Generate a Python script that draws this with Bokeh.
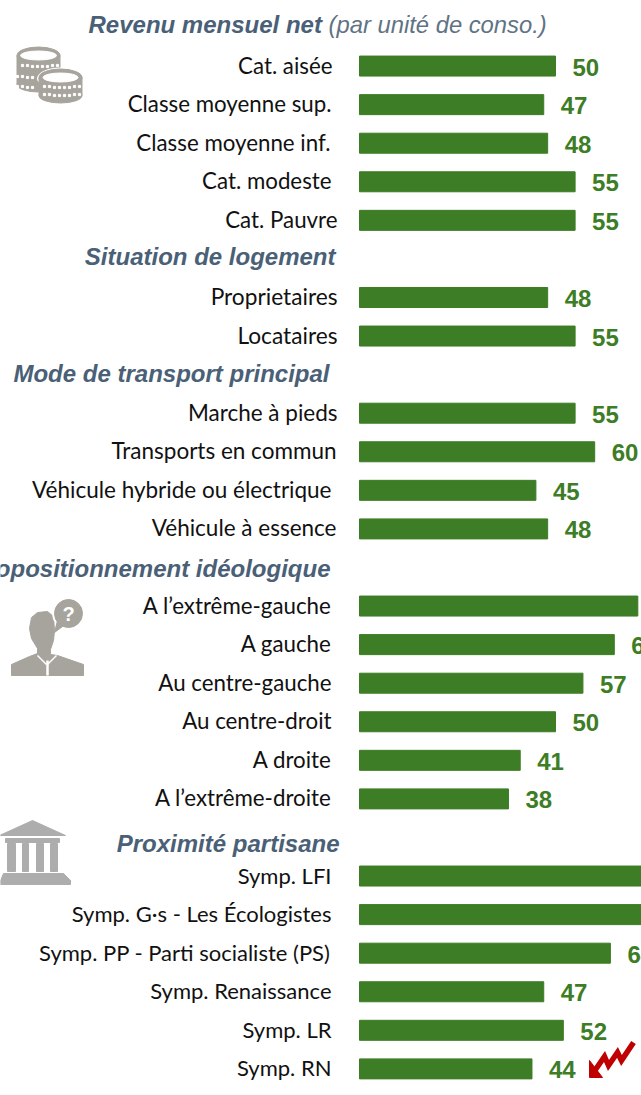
from bokeh.plotting import figure
from bokeh.models import Range1d, ColumnDataSource
from bokeh.core.properties import value
from bokeh.embed import file_html
from bokeh.resources import INLINE

# ---------- data ----------
title_bold = "Revenu mensuel net"
title_light = "(par unité de conso.)"
headings = ["Situation de logement", "Mode de transport principal",
            "Autopositionnement idéologique", "Proximité partisane"]

revenu = ["Cat. aisée", "Classe moyenne sup.", "Classe moyenne inf.", "Cat. modeste", "Cat. Pauvre"]
revenu_v = [50, 47, 48, 55, 55]
logement = ["Proprietaires", "Locataires"]
logement_v = [48, 55]
transport = ["Marche à pieds", "Transports en commun", "Véhicule hybride ou électrique", "Véhicule à essence"]
transport_v = [55, 60, 45, 48]
ideologie = ["A l’extrême-gauche", "A gauche", "Au centre-gauche", "Au centre-droit", "A droite", "A l’extrême-droite"]
ideologie_v = [71, 65, 57, 50, 41, 38]
partis = ["Symp. LFI", "Symp. G·s - Les Écologistes", "Symp. PP - Parti socialiste (PS)",
          "Symp. Renaissance", "Symp. LR", "Symp. RN"]
partis_v = [74, 73, 64, 47, 52, 44]

# ---------- layout (pixels of the page, separate from the values) ----------
W, H = 641, 1095
ROW0, ROW_H = 27.0, 38.57
PX_PER_UNIT = 3.92
BAR_X0 = 359
GREEN, SLATE, ICON = "#3d7d25", "#4a6076", "#a6a49c"
RED = "#c00000"
label_right = [332, 331, 330, 331, 337, 337, 337, 337, 336, 331, 336,
               331, 331, 331, 331, 331, 331, 331, 331, 330, 331, 331, 331]
label_sizes = (["22.3px"] * 5 + ["22.7px"] * 2 + ["22.5px"] * 4 + ["22.3px"] * 6 + ["22px"] * 6)
heading_right = [335, 329, 330, 339]
heading_dy = [-2, -1, 1, 6]

labels = revenu + logement + transport + ideologie + partis
vals = revenu_v + logement_v + transport_v + ideologie_v + partis_v
rows = ([title_bold] + revenu + [headings[0]] + logement + [headings[1]] + transport
        + [headings[2]] + ideologie + [headings[3]] + partis)


def row_y(name):
    return ROW0 + ROW_H * rows.index(name)


p = figure(width=W, height=H, output_backend="svg", toolbar_location=None,
           x_range=Range1d(-BAR_X0 / PX_PER_UNIT, (W - BAR_X0) / PX_PER_UNIT),
           y_range=Range1d(H, 0),
           min_border_left=0, min_border_right=0, min_border_top=0, min_border_bottom=0)
p.xaxis.visible = False
p.yaxis.visible = False
p.grid.visible = False
p.outline_line_color = None
p.background_fill_color = "white"
p.border_fill_color = "white"
p.extra_x_ranges["px"] = Range1d(0, W)

src = ColumnDataSource(dict(y=[row_y(l) for l in labels], name=labels, v=vals,
                            t=[str(v) for v in vals], r=label_right, fs=label_sizes))
p.hbar(y="y", left=0, right="v", height=20, source=src, color=GREEN)
p.text(x="v", y="y", text="t", source=src, x_offset=17, y_offset=1, text_align="left",
       text_baseline="middle", text_color=GREEN, text_font=value("Liberation Sans"),
       text_font_style="bold", text_font_size="24px")
p.text(x="r", y="y", text="name", source=src, x_range_name="px", y_offset=-1, text_align="right",
       text_baseline="middle", text_color="#111111", text_font=value("Lato"), text_font_size="fs")

p.text(x="r", y="y", text="h", x_range_name="px", y_offset="dy",
       source=ColumnDataSource(dict(h=headings, y=[row_y(h) for h in headings],
                                    r=heading_right, dy=heading_dy)),
       text_align="right", text_baseline="middle", text_color=SLATE,
       text_font=value("Liberation Sans"), text_font_style="bold italic", text_font_size="24px")
p.text(x=[88], y=[row_y(title_bold)], text=[title_bold], x_range_name="px", y_offset=-3,
       text_align="left", text_baseline="middle", text_color=SLATE,
       text_font=value("Liberation Sans"), text_font_style="bold italic", text_font_size="24px")
p.text(x=[328], y=[row_y(title_bold)], text=[title_light], x_range_name="px", y_offset=-3,
       text_align="left", text_baseline="middle", text_color="#5f7384",
       text_font=value("Liberation Sans"), text_font_style="italic", text_font_size="23.8px")

px = dict(x_range_name="px")

# coins icon
def coin(cx, cy, depth):
    p.rect(x=[cx], y=[cy + depth / 2], width=[43], height=[depth], color=ICON, **px)
    p.ellipse(x=[cx], y=[cy + depth], width=[43], height=[15], color=ICON, **px)
    p.ellipse(x=[cx], y=[cy], width=[43], height=[17], color=ICON, **px)

coin(38, 55, 29)
for dx in range(-16, 20, 5):
    p.rect(x=[38 + dx], y=[65 + (abs(dx) < 10) * 1], width=[2.2], height=[2.2], color="white", **px)
    if dx < 0:
        p.rect(x=[33 + dx], y=[76 + (dx > -8) * 1], width=[2.2], height=[2.2], color="white", **px)
        p.rect(x=[33 + dx], y=[86 + (dx > -8) * 1], width=[2.2], height=[2.2], color="white", **px)
p.ellipse(x=[38], y=[55], width=[36], height=[9], color="white", **px)
p.ellipse(x=[60], y=[78], width=[46], height=[21], color="white", **px)
coin(60, 77, 18)
p.ellipse(x=[60], y=[77], width=[35], height=[9], color="white", **px)
for dx in range(-16, 20, 5):
    p.rect(x=[60 + dx], y=[86 + (abs(dx) < 10) * 1], width=[2.2], height=[2.2], color="white", **px)
    p.rect(x=[60 + dx], y=[94 + (abs(dx) < 10) * 1], width=[2.2], height=[2.2], color="white", **px)

# person with a question mark
p.patch(x=[11, 11, 29, 37, 37, 31, 29, 31, 37, 47, 53, 54, 53, 50, 50, 57, 83, 83],
        y=[675, 664, 656, 653, 648, 638, 628, 617, 612, 611, 616, 630, 640, 649, 654, 655, 664, 675],
        color=ICON, **px)
p.segment(x0=[47], y0=[660], x1=[47], y1=[675], color="white", line_width=2.5, **px)
p.segment(x0=[37], y0=[655], x1=[46], y1=[664], color="white", line_width=1.5, **px)
p.segment(x0=[56], y0=[655], x1=[47], y1=[664], color="white", line_width=1.5, **px)
p.circle(x=[68], y=[613], radius=[16], color="white", **px)
p.circle(x=[68], y=[613], radius=[14], color=ICON, **px)
p.patch(x=[57, 54, 62], y=[620, 632, 626], color=ICON, **px)
p.text(x=[68], y=[613], text=["?"], text_align="center", text_baseline="middle", text_color="white",
       text_font=value("Liberation Sans"), text_font_style="bold", text_font_size="20px", **px)

# temple
TEMPLE = "#adadad"
p.patch(x=[-1, 32, 65], y=[835, 820, 835], color=TEMPLE, **px)
p.quad(left=[5], right=[59], top=[838], bottom=[842], color=TEMPLE, **px)
p.quad(left=[7, 22, 36, 50], right=[15, 28, 43, 57], top=[843] * 4, bottom=[871] * 4, color=TEMPLE, **px)
p.patch(x=[3, 63, 70, 70, 0, 0], y=[873, 873, 880, 884, 884, 880], color=TEMPLE, **px)

# red zig-zag arrow
p.patch(x=[589, 589, 602], y=[1060, 1077, 1077], color=RED, **px)
p.line(x=[593, 604, 608, 617, 621, 633], y=[1072, 1056, 1065, 1052, 1060, 1042],
       color=RED, line_width=5.5, line_join="miter", **px)

open("out.html", "w").write(file_html(p, INLINE))
